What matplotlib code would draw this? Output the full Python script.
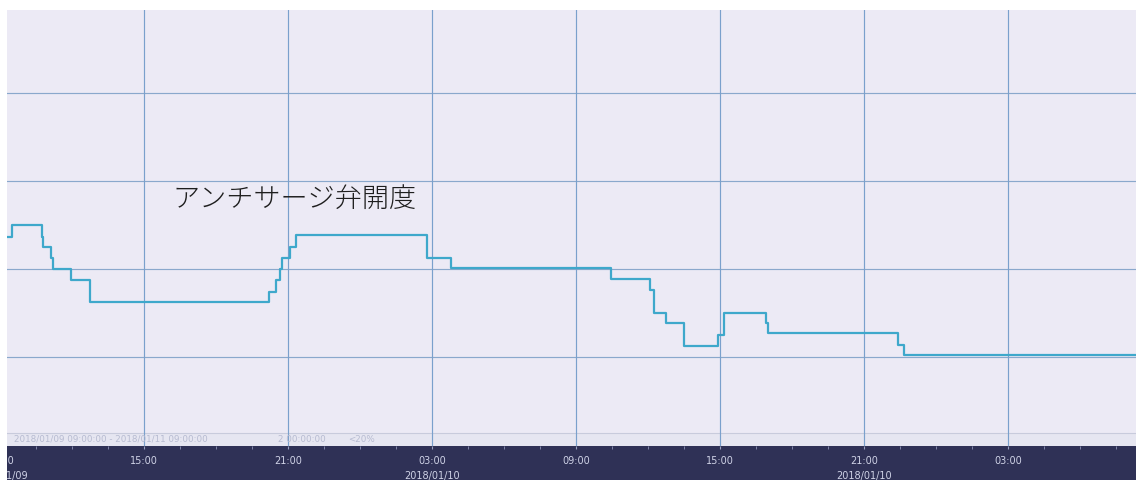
import matplotlib
matplotlib.use("Agg")
import matplotlib.pyplot as plt
from matplotlib.patches import Rectangle
from datetime import datetime, timedelta

# ---- data ----
step_times = [
    "2018-01-09 09:00", "2018-01-09 09:30", "2018-01-09 10:43", "2018-01-09 10:47",
    "2018-01-09 11:06", "2018-01-09 11:11", "2018-01-09 11:56", "2018-01-09 12:45",
    "2018-01-09 20:12", "2018-01-09 20:28", "2018-01-09 20:38", "2018-01-09 20:45",
    "2018-01-09 21:05", "2018-01-09 21:20", "2018-01-10 02:47", "2018-01-10 03:47",
    "2018-01-10 10:26", "2018-01-10 12:05", "2018-01-10 12:15", "2018-01-10 12:45",
    "2018-01-10 13:28", "2018-01-10 14:55", "2018-01-10 15:08", "2018-01-10 16:53",
    "2018-01-10 16:58", "2018-01-10 22:25", "2018-01-10 22:40", "2018-01-11 08:18",
]
opening_pct = [
    47.3, 50.0, 47.3, 45.1,
    42.5, 40.0, 37.5, 32.6,
    34.8, 37.5, 40.0, 42.5,
    45.1, 47.7, 42.5, 40.2,
    37.7, 35.2, 29.9, 27.7,
    22.5, 25.0, 30.1, 27.7,
    25.4, 22.7, 20.5, 20.5,
]
tick_times = [
    "2018-01-09 09:00", "2018-01-09 15:00", "2018-01-09 21:00", "2018-01-10 03:00",
    "2018-01-10 09:00", "2018-01-10 15:00", "2018-01-10 21:00", "2018-01-11 03:00",
]
tick_labels = [
    "09:00\n2018/01/09", "15:00", "21:00", "03:00\n2018/01/10",
    "09:00", "15:00", "21:00\n2018/01/10", "03:00",
]
y_grid = [20, 40, 60, 80]
series_label = "アンチサージ弁開度"
range_text = "2018/01/09 09:00:00 - 2018/01/11 09:00:00"
span_text = "2 00:00:00"
scale_text = "<20%"

# ---- figure ----
W, H = 1136, 480
fig = plt.figure(figsize=(W / 100, H / 100), dpi=100, facecolor="white")

band_top = 446
plot_top = 9.5
ax = fig.add_axes([0, (H - band_top) / H, 1, (band_top - plot_top) / H])
ax.set_facecolor("#eceaf5")
for s in ax.spines.values():
    s.set_visible(False)

t = [datetime.strptime(s, "%Y-%m-%d %H:%M") for s in step_times]
t0 = datetime(2018, 1, 9, 9, 0)
px_per_hour = 24.0
xmin = t0 - timedelta(hours=0.3 / px_per_hour)
xmax = xmin + timedelta(hours=W / px_per_hour)
px_per_val = 4.4
ymin = -1.0 / px_per_val
ymax = ymin + (band_top - plot_top) / px_per_val

# grid
for yv in y_grid:
    ax.axhline(yv, color="#8aa8cc", lw=0.85, zorder=1)
ticks = [datetime.strptime(s, "%Y-%m-%d %H:%M") for s in tick_times]
for tk in ticks:
    ax.axvline(tk, color="#7aa0cc", lw=0.85, zorder=1)

# faint info strip at the bottom of the plot
strip_top = (band_top - 433) / px_per_val + ymin
ax.axhspan(ymin, strip_top, color="#e6e6f1", zorder=0.5, lw=0)
ax.axhline(strip_top, color="#c8cbdc", lw=0.8, zorder=0.6)
hfrac = 6.5 / (band_top - plot_top)
ax.text(14 / W, hfrac, range_text, transform=ax.transAxes,
        fontsize=6.3, color="#b7bbd1", va="center", ha="left")
ax.text(278 / W, hfrac, span_text, transform=ax.transAxes,
        fontsize=6.3, color="#b7bbd1", va="center", ha="left")
ax.text(348 / W, hfrac, scale_text, transform=ax.transAxes,
        fontsize=6.3, color="#b7bbd1", va="center", ha="left")

# the trend line
ax.plot(t, opening_pct, drawstyle="steps-post", color="#3ea8cb", lw=1.6, zorder=3)

# label
ax.text(172 / W, (band_top - 199) / (band_top - plot_top), series_label,
        transform=ax.transAxes, fontsize=19.5, color="#1e1e1e", va="center", ha="left",
        family=["Noto Sans CJK JP", "DejaVu Sans"], fontweight="light")

# ticks
ax.set_yticks([])
ax.set_xticks(ticks)
ax.set_xticklabels(tick_labels)
minor = [t0 + timedelta(minutes=90 * i) for i in range(32)]
ax.set_xticks(minor, minor=True)
ax.tick_params(axis="x", which="major", length=2, color="#9aa0c0", pad=5,
               labelsize=7, labelcolor="#cfd2e6")
ax.tick_params(axis="x", which="minor", length=2, color="#8d92b5")
for lbl in ax.get_xticklabels():
    lbl.set_linespacing(1.7)
    lbl.set_family(["DejaVu Sans"])

# limits last, so tick setting cannot widen them
ax.set_xlim(xmin, xmax)
ax.set_ylim(ymin, ymax)

# dark time band and left white margin
fig.add_artist(Rectangle((0, 0), 1, (H - band_top) / H, transform=fig.transFigure,
                         facecolor="#2f3156", edgecolor="none", zorder=-1))
fig.add_artist(Rectangle((0, 0), 7 / W, 1, transform=fig.transFigure,
                         facecolor="white", edgecolor="none", zorder=10))

fig.savefig("out.png", dpi=100, facecolor="white")
